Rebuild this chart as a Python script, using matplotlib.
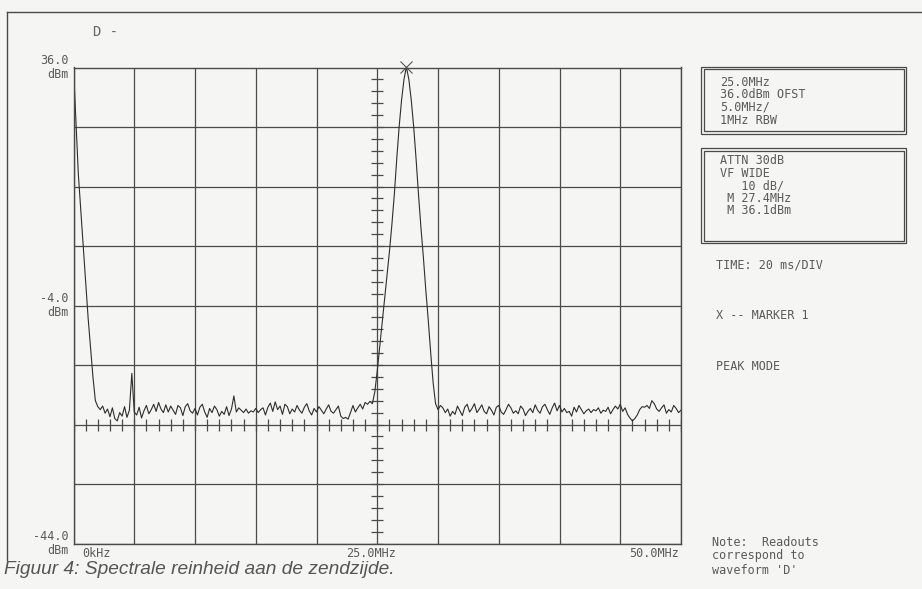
import numpy as np
import matplotlib
matplotlib.use("Agg")
import matplotlib.pyplot as plt
from matplotlib.lines import Line2D
from matplotlib.patches import Rectangle

# sweep: 0 - 50 MHz in 0.2 MHz steps, levels in dBm
step_mhz = 0.2

# LO feedthrough at 0 Hz (0.0 .. 2.0 MHz)
lo_dbm = [36.0, 27.0, 18.0, 12.0, 6.0, 0.0, -6.0, -11.0, -16.0, -20.0, -21.0]

# noise floor 2.2 .. 24.4 MHz (spur at 4.8 MHz and 13.2 MHz)
floor_low_dbm = [
    -21.5, -20.9, -22.1, -21.4, -22.7, -21.2, -23.0, -23.4, -22.0, -22.6,
    -21.0, -22.8, -21.6, -15.4, -21.9, -22.4, -21.1, -22.9, -21.7, -20.8,
    -22.2, -21.5, -20.6, -21.8, -20.3, -21.4, -22.0, -20.7, -21.9, -20.9,
    -21.6, -22.3, -20.8, -21.2, -22.5, -21.0, -20.5, -21.7, -22.1, -21.3,
    -22.4, -21.1, -20.6, -21.9, -22.8, -21.3, -22.0, -20.9, -21.5, -22.6,
    -21.8, -22.3, -21.0, -22.5, -21.4, -19.2, -21.9, -21.2, -21.6, -22.0,
    -21.4, -22.1, -21.7, -21.9, -21.3, -22.0, -21.5, -21.2, -22.4, -21.1,
    -20.4, -21.8, -20.2, -21.5, -20.9, -22.3, -20.6, -21.0, -22.2, -21.4,
    -21.9, -20.8, -21.6, -22.1, -21.1, -20.5, -21.7, -22.4, -21.3, -21.9,
    -21.0, -21.6, -22.2, -21.4, -20.7, -21.8, -22.1, -21.5, -20.9, -22.6,
    -23.0, -22.8, -23.1, -22.0, -20.8, -21.9, -21.2, -20.6, -21.4, -20.3,
    -20.6, -20.1,
]

# carrier 24.6 .. 30.2 MHz, peak at 27.4 MHz
carrier_dbm = [
    -20.5, -18.5, -15.0, -11.0, -7.0, -3.0, 1.0, 5.0, 9.5, 14.5,
    20.5, 26.0, 30.5, 34.0, 36.1, 34.0, 30.5, 26.0, 20.5, 14.5,
    9.0, 4.0, -1.5, -6.5, -12.0, -17.0, -20.5, -21.5, -20.8,
]

# noise floor 30.4 .. 50.0 MHz
floor_high_dbm = [
    -21.2, -22.0, -21.4, -22.6, -21.8, -22.3, -20.9, -21.7, -22.5, -21.1,
    -20.6, -21.9, -21.3, -20.5, -22.0, -21.4, -20.7, -21.8, -22.2, -21.0,
    -21.6, -22.4, -21.1, -20.8, -21.9, -22.3, -21.5, -20.6, -21.2, -22.1,
    -21.7, -22.2, -20.9, -21.4, -22.5, -21.8, -21.3, -22.0, -20.7, -21.6,
    -22.1, -21.0, -20.6, -21.5, -22.3, -21.2, -20.4, -21.7, -20.8, -21.9,
    -21.3, -22.0, -21.8, -22.6, -21.1, -21.9, -20.8, -21.5, -22.2, -21.7,
    -21.4, -22.0, -21.5, -21.7, -21.2, -22.1, -21.6, -21.8, -21.1, -22.2,
    -21.5, -20.9, -21.4, -20.6, -21.8, -21.2, -22.3, -22.9, -23.4, -23.0,
    -22.4, -21.5, -21.0, -21.1, -20.8, -21.3, -20.0, -20.5, -21.4, -21.8,
    -21.2, -20.7, -22.1, -21.5, -21.9, -20.8, -21.3, -22.0, -21.6,
]

level_dbm = np.array(lo_dbm + floor_low_dbm + carrier_dbm + floor_high_dbm)
freq_mhz = np.arange(len(level_dbm)) * step_mhz

marker_mhz = 27.4
marker_dbm = 36.1

ref_dbm = 36.0
db_per_div = 10
n_ydiv = 8
span_mhz = 50.0
mhz_per_div = 5.0

y_labels = {36.0: "36.0\ndBm", -4.0: "-4.0\ndBm", -44.0: "-44.0\ndBm"}
x_labels = [(0.0, "0kHz", "left"), (25.0, "25.0MHz", "center"), (50.0, "50.0MHz", "right")]

box1_lines = ["25.0MHz", "36.0dBm OFST", "5.0MHz/", "1MHz RBW"]
box2_lines = ["ATTN 30dB", "VF WIDE", "   10 dB/", " M 27.4MHz", " M 36.1dBm"]
side_notes = ["TIME: 20 ms/DIV", "X -- MARKER 1", "PEAK MODE"]
note_text = "Note:  Readouts\ncorrespond to\nwaveform 'D'"
caption = "Figuur 4: Spectrale reinheid aan de zendzijde."

W, H = 922, 589
bg = "#f5f5f3"
ink = "#4a4a4a"
txt = "#5a5a5a"
mono = "DejaVu Sans Mono"
fs = 8.5

fig = plt.figure(figsize=(W / 100, H / 100), dpi=100, facecolor=bg)


def fx(px):
    return px / W


def fy(py):
    return 1 - py / H


ax = fig.add_axes([fx(73.5), fy(543.5), fx(681) - fx(73.5), fy(67.5) - fy(543.5)])
ax.set_facecolor(bg)
bottom_dbm = ref_dbm - n_ydiv * db_per_div
ax.set_xlim(0, span_mhz)
ax.set_ylim(bottom_dbm, ref_dbm)

# graticule
ax.set_xticks(np.arange(0, span_mhz + 0.1, mhz_per_div))
ax.set_yticks(np.arange(bottom_dbm, ref_dbm + 0.1, db_per_div))
ax.grid(True, color=ink, lw=0.9)
ax.tick_params(length=0, labelbottom=False, labelleft=False)
for s in ax.spines.values():
    s.set_color(ink)
    s.set_linewidth(1.0)

# centre cross with minor ticks
cx = span_mhz / 2
cy = ref_dbm - 6 * db_per_div
ax.plot(np.full(5 * n_ydiv + 1, cx), np.linspace(bottom_dbm, ref_dbm, 5 * n_ydiv + 1),
        ls="none", marker="_", ms=8, mew=0.9, color=ink)
ax.plot(np.arange(0, span_mhz + 0.1, 1.0), np.full(51, cy),
        ls="none", marker="|", ms=8, mew=0.9, color=ink)

# trace
ax.plot(freq_mhz, level_dbm, color="#2e2e2e", lw=0.8)
ax.plot([marker_mhz], [marker_dbm], marker="x", ms=8, mew=0.8, color="#555555",
        clip_on=False)

for lvl, lab in y_labels.items():
    ax.annotate(lab, xy=(0, lvl), xycoords=("axes fraction", "data"),
                xytext=(-5, 0), textcoords="offset pixels", ha="right", va="center",
                multialignment="right", fontsize=fs, family=mono, color=txt,
                linespacing=1.15)
for xv, lab, ha in x_labels:
    off = 9 if ha == "left" else (-6 if ha == "center" else -2)
    ax.annotate(lab, xy=(xv, 0), xycoords=("data", "axes fraction"),
                xytext=(off, -10), textcoords="offset pixels", ha=ha, va="center",
                fontsize=fs, family=mono, color=txt)

# frame around the plot page
fig.add_artist(Line2D([fx(7), 1], [fy(12), fy(12)], color=ink, lw=1.0))
fig.add_artist(Line2D([fx(7), fx(7)], [fy(12), fy(560)], color=ink, lw=1.0))

fig.text(fx(93), fy(32), "D -", fontsize=10, family=mono, color="#666666",
         va="center", ha="left")

# readout boxes
for (y0, y1) in [(67, 134), (148, 243)]:
    for d in (0, 2.5):
        fig.add_artist(Rectangle((fx(701 + d), fy(y1 - d)), fx(906 - d) - fx(701 + d),
                                 fy(67) - fy(67 + (y1 - y0) - 2 * d),
                                 fill=False, ec=ink, lw=0.9))
for i, line in enumerate(box1_lines):
    fig.text(fx(720), fy(82 + 12.7 * i), line, fontsize=fs, family=mono,
             color=txt, va="center")
for i, line in enumerate(box2_lines):
    fig.text(fx(720), fy(161 + 12.5 * i), line, fontsize=fs, family=mono,
             color=txt, va="center")
for yy, line in zip([265, 315, 367], side_notes):
    fig.text(fx(716), fy(yy), line, fontsize=fs, family=mono, color=txt, va="center")
fig.text(fx(712), fy(556), note_text, fontsize=fs, family=mono, color=txt,
         va="center", linespacing=1.1)

fig.text(fx(4), fy(569), caption, fontsize=13.8, style="italic",
         family=["Liberation Sans", "DejaVu Sans"],
         color="#555555", va="center", ha="left")

fig.savefig("out.png", dpi=100, facecolor=bg)
